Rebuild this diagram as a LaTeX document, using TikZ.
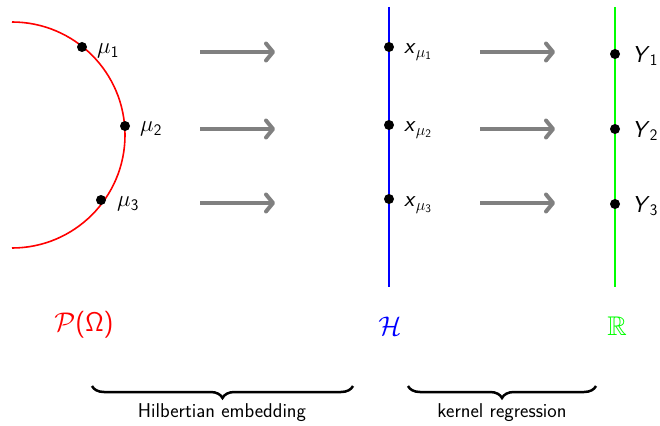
\documentclass[tikz,border=0pt]{standalone}
\usepackage{fix-cm}
\usepackage{amsmath,amssymb}
\usepackage{fontspec}
\setsansfont{Latin Modern Sans}
\usetikzlibrary{arrows.meta,decorations.pathreplacing}
\begin{document}
\begin{tikzpicture}[x=1pt,y=-1pt,
  dot/.style={circle,fill=black,inner sep=0pt,minimum size=10pt},
  lbl/.style={anchor=west,inner sep=0pt,font=\fontsize{23}{26}\selectfont},
  big/.style={inner sep=0pt,font=\fontsize{27}{30}\selectfont},
  captext/.style={inner sep=0pt,font=\sffamily\fontsize{20}{22}\selectfont},
  maparrow/.style={draw=gray,line width=4pt,-{Straight Barb[length=7pt,width=17pt,line cap=round,line join=round]}},
  brc/.style={draw=black,line width=2.5pt,decorate,decoration={brace,mirror,amplitude=12pt}}]
\useasboundingbox (0,0) rectangle (660,425);
% red arc
\draw[red,line width=1.6pt] (12,22) arc[start angle=90,end angle=-90,radius=113pt];
\node[dot] (m1) at (82,47) {};
\node[dot] (m2) at (125,126) {};
\node[dot] (m3) at (101,200) {};
\node[lbl] (lm1) at (97,51) {$\mu_{\textsf{1}}$};
\node[lbl] (lm2) at (140,129) {$\mu_{\textsf{2}}$};
\node[lbl] (lm3) at (117,204) {$\mu_{\textsf{3}}$};
% blue line
\coordinate (bt) at (389,7);
\coordinate (bb) at (389,287);
\draw[blue,line width=1.6pt] (bt) -- (bb);
\node[dot] (x1) at (389,47) {};
\node[dot] (x2) at (389,125) {};
\node[dot] (x3) at (389,199) {};
\node[lbl] (lx1) at (404,52) {\textsf{\itshape x}$_{\mu_{\textsf{1}}}$};
\node[lbl] (lx2) at (404,130) {\textsf{\itshape x}$_{\mu_{\textsf{2}}}$};
\node[lbl] (lx3) at (404,205) {\textsf{\itshape x}$_{\mu_{\textsf{3}}}$};
% green line
\coordinate (gt) at (615,7);
\coordinate (gb) at (615,287);
\draw[green,line width=1.6pt] (gt) -- (gb);
\node[dot] (y1) at (615,54) {};
\node[dot] (y2) at (615,129) {};
\node[dot] (y3) at (615,204) {};
\node[lbl] (ly1) at (632,56) {\textsf{\itshape Y}$_{\textsf{1}}$};
\node[lbl] (ly2) at (632,131) {\textsf{\itshape Y}$_{\textsf{2}}$};
\node[lbl] (ly3) at (632,206) {\textsf{\itshape Y}$_{\textsf{3}}$};
% arrows
\foreach \i/\y in {1/52,2/129,3/203}{
  \coordinate (a\i s) at (200,\y);
  \coordinate (a\i e) at (275,\y);
  \coordinate (b\i s) at (480,\y);
  \coordinate (b\i e) at (555,\y);
  \draw[maparrow] (a\i s) -- (a\i e);
  \draw[maparrow] (b\i s) -- (b\i e);
}
% space labels
\node[big,text=red] (P) at (84,325) {$\mathcal{P}$\textsf{(Ω)}};
\node[big,text=blue] (H) at (390,326) {$\mathcal{H}$};
\node[big,text=green] (R) at (617,326) {$\mathbb{R}$};
% braces
\coordinate (b1l) at (92,386);
\coordinate (b1r) at (353,386);
\coordinate (b2l) at (408,386);
\coordinate (b2r) at (596,386);
\draw[brc] (b1l) -- (b1r);
\draw[brc] (b2l) -- (b2r);
\node[captext] (t1) at (222,413) {Hilbertian embedding};
\node[captext] (t2) at (502,413) {kernel regression};
\end{tikzpicture}
\end{document}
